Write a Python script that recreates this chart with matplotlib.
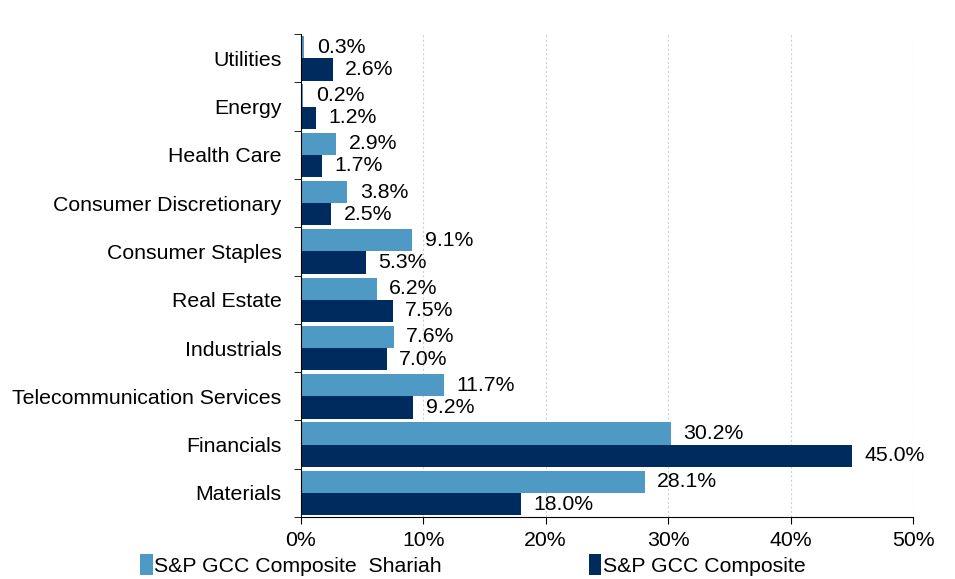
import matplotlib.pyplot as plt
import numpy as np
from matplotlib.ticker import FixedLocator, PercentFormatter

plt.rcParams['font.family'] = ['Liberation Sans', 'DejaVu Sans']

sectors = ['Utilities', 'Energy', 'Health Care', 'Consumer Discretionary', 'Consumer Staples',
           'Real Estate', 'Industrials', 'Telecommunication Services', 'Financials', 'Materials']
shariah = [0.3, 0.2, 2.9, 3.8, 9.1, 6.2, 7.6, 11.7, 30.2, 28.1]
composite = [2.6, 1.2, 1.7, 2.5, 5.3, 7.5, 7.0, 9.2, 45.0, 18.0]

light = '#4f9ac4'
dark = '#002b5e'
fs = 15.3

fig = plt.figure(figsize=(9.55, 5.79), dpi=100)
ax = fig.add_axes([0.315, 0.107, 0.641, 0.834])

y = np.arange(len(sectors))
h = 0.46
b1 = ax.barh(y - h / 2, shariah, height=h, color=light, label='S&P GCC Composite  Shariah')
b2 = ax.barh(y + h / 2, composite, height=h, color=dark, label='S&P GCC Composite')

# value labels just past the bar end
for bars, vals in [(b1, shariah), (b2, composite)]:
    for bar, v in zip(bars, vals):
        ax.annotate(f'{v:.1f}%', (bar.get_width(), bar.get_y() + bar.get_height() / 2),
                    xytext=(9, 0), textcoords='offset points', va='center', ha='left', fontsize=fs)

ax.set_ylim(len(sectors) - 0.5, -0.5)
ax.set_yticks(y)
ax.set_yticklabels(sectors, fontsize=fs)
ax.yaxis.set_minor_locator(FixedLocator(np.arange(-0.5, len(sectors), 1)))
ax.tick_params(axis='y', which='major', length=0, pad=14)
ax.tick_params(axis='y', which='minor', length=5, direction='out')

ax.set_xlim(0, 50)
ax.set_xticks(range(0, 51, 10))
ax.xaxis.set_major_formatter(PercentFormatter(decimals=0))
ax.tick_params(axis='x', length=5, labelsize=fs, pad=5)
ax.grid(axis='x', linestyle=(0, (2, 2)), color='#d0d0d0', linewidth=0.8)
ax.set_axisbelow(True)

for s in ['top', 'right']:
    ax.spines[s].set_visible(False)

fig.legend(loc='lower left', bbox_to_anchor=(0.131, -0.02), ncol=2, frameon=False, fontsize=fs,
           handlelength=0.6, handleheight=1.1, handletextpad=0.08, columnspacing=6.9, borderpad=0.2)

fig.savefig('out.png', dpi=100)
